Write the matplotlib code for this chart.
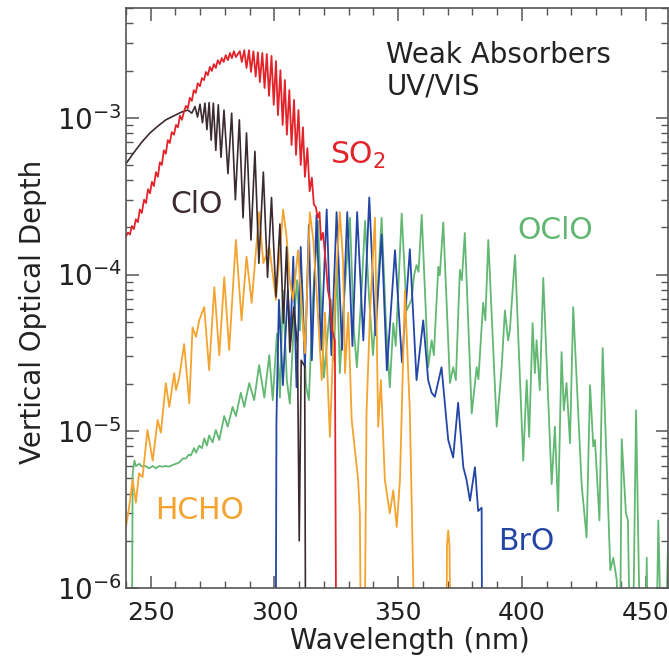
import numpy as np
import matplotlib
matplotlib.use("Agg")
import matplotlib.pyplot as plt
from matplotlib.ticker import MultipleLocator, LogLocator, NullFormatter

# ------------------------------------------------------------
# Datos: longitud de onda (nm) y profundidad optica
# (1e-7 = la curva cae por debajo del eje)
# ------------------------------------------------------------
so2_wl = [240.0, 240.8, 241.6, 242.4, 243.2, 244.0, 244.8, 245.6, 246.4, 247.3,
          248.1, 248.9, 249.7, 250.5, 251.3, 252.1, 252.9, 253.7, 254.5, 255.3,
          256.1, 256.9, 257.7, 258.5, 259.4, 260.2, 261.0, 261.8, 262.6, 263.4,
          264.2, 265.0, 265.8, 266.6, 267.4, 268.2, 269.0, 269.9, 270.7, 271.5,
          272.3, 273.1, 273.9, 274.7, 275.5, 276.3, 277.1, 277.9, 278.7, 279.5,
          280.3, 281.2, 282.0, 282.8, 283.6, 284.4,
          286.0, 286.8, 287.8, 288.7, 289.7, 290.5, 291.5, 292.4, 293.3, 294.1,
          295.1, 296.0, 296.9, 297.8, 298.8, 299.7, 300.6, 301.4, 302.4, 303.3,
          304.2, 305.0, 306.0, 306.9, 307.9, 308.7, 309.7, 310.6, 311.5, 312.3,
          313.3, 314.2, 315.1, 315.9, 316.7, 317.5, 318.2, 318.8, 319.6, 320.8,
          321.6, 322.4, 323.3, 324.4, 325.1]
so2_od = [1.75e-4, 1.85e-4, 1.8e-4, 2.04e-4, 1.95e-4, 2.25e-4, 2.16e-4, 2.6e-4, 2.47e-4, 3.0e-4,
          2.86e-4, 3.5e-4, 3.3e-4, 3.9e-4, 3.67e-4, 4.5e-4, 4.2e-4, 5.2e-4, 5.0e-4, 6.2e-4,
          5.9e-4, 7.2e-4, 6.9e-4, 8.1e-4, 7.8e-4, 9.0e-4, 8.7e-4, 1.03e-3, 9.7e-4, 1.09e-3,
          1.19e-3, 1.15e-3, 1.34e-3, 1.28e-3, 1.50e-3, 1.44e-3, 1.66e-3, 1.59e-3, 1.79e-3, 1.74e-3,
          1.96e-3, 1.87e-3, 2.11e-3, 1.99e-3, 2.2e-3, 2.08e-3, 2.33e-3, 2.2e-3, 2.4e-3, 2.27e-3,
          2.51e-3, 2.33e-3, 2.59e-3, 2.4e-3, 2.66e-3, 2.44e-3,
          2.66e-3, 2.27e-3, 2.7e-3, 2.08e-3, 2.7e-3, 1.96e-3, 2.66e-3, 1.83e-3, 2.62e-3, 1.69e-3,
          2.59e-3, 1.55e-3, 2.55e-3, 1.38e-3, 2.48e-3, 1.21e-3, 2.30e-3, 1.04e-3, 2.01e-3, 9.0e-4,
          1.74e-3, 7.8e-4, 1.50e-3, 6.7e-4, 1.30e-3, 5.8e-4, 1.12e-3, 5.0e-4, 8.7e-4, 4.2e-4,
          6.4e-4, 3.4e-4, 4.15e-4, 2.8e-4, 2.7e-4, 2.3e-4, 2.5e-4, 1.66e-4, 1.85e-4, 1.15e-4,
          7.9e-5, 6.9e-5, 4.4e-5, 3.8e-5, 1e-7]

clo_wl = [240.0, 243.2, 246.4, 249.7, 252.9, 256.1, 259.4, 262.6, 265.0, 266.6,
          267.9, 268.9, 269.9, 270.9, 271.9, 272.7, 273.6, 274.4, 275.3, 276.3,
          277.3, 278.4, 279.6, 281.2, 282.7, 284.2, 285.8, 287.3, 288.7, 290.5,
          292.1, 293.7, 295.5, 297.2, 298.8, 300.6, 302.2, 303.6, 304.9, 306.2,
          307.8, 309.3, 310.0, 310.8, 312.2, 312.7]
clo_od = [5.1e-4, 6.0e-4, 7.0e-4, 8.0e-4, 8.85e-4, 9.7e-4, 1.03e-3, 1.09e-3, 1.12e-3, 1.07e-3,
          1.18e-3, 1.01e-3, 1.22e-3, 9.3e-4, 1.24e-3, 8.4e-4, 1.25e-3, 7.2e-4, 1.24e-3, 6.2e-4,
          1.21e-3, 5.6e-4, 1.12e-3, 4.4e-4, 1.07e-3, 3.0e-4, 9.7e-4, 2.3e-4, 8.0e-4, 1.66e-4,
          6.1e-4, 1.18e-4, 4.5e-4, 9.6e-5, 3.1e-4, 7.2e-5, 2.1e-4, 4.9e-5, 1.5e-4, 3.2e-5,
          6.2e-5, 3.5e-5, 2.0e-6, 2.84e-5, 2.6e-5, 1e-7]

hcho_wl = [240.0, 241.3, 242.7, 244.0, 245.3, 246.7, 248.7, 250.8, 252.8, 254.1,
           256.1, 257.5, 259.5, 260.2, 261.5, 263.5, 265.6, 266.9, 268.3, 269.6,
           271.6, 273.6, 275.7, 277.7, 279.7, 281.7, 284.4, 286.7, 288.7, 290.8,
           293.8, 295.5, 297.9, 300.6, 303.5, 304.9, 306.2, 307.5, 309.5, 312.3,
           314.3, 315.7, 317.2, 319.1, 320.4, 322.4, 324.4, 326.4, 327.7, 328.5,
           329.8, 331.2, 332.5, 333.8, 334.5, 335.2, 336.1, 337.2, 338.6, 340.6,
           341.9, 343.0, 344.6, 346.6, 348.0, 349.4, 350.7, 352.7, 354.7, 357.4,
           369.3, 369.7, 370.2, 370.7, 371.6]
hcho_od = [2.45e-6, 3.3e-6, 4.9e-6, 3.5e-6, 5.4e-6, 5.1e-6, 1.02e-5, 6.5e-6, 1.18e-5, 9.8e-6,
           2.03e-5, 1.43e-5, 2.35e-5, 1.83e-5, 2.2e-5, 3.6e-5, 1.51e-5, 4.6e-5, 4.0e-5, 5.1e-5,
           6.2e-5, 2.45e-5, 8.3e-5, 3.06e-5, 9.6e-5, 3.3e-5, 1.66e-4, 5.1e-5, 1.3e-4, 6.6e-5,
           2.5e-4, 1.18e-4, 1.5e-4, 6.9e-5, 2.6e-4, 1.73e-4, 9.2e-5, 6.9e-5, 1.43e-4, 3.15e-5,
           2.5e-4, 1.66e-4, 6.9e-5, 2.12e-5, 5.7e-5, 9.2e-6, 6.9e-5, 2.5e-4, 1.24e-4, 2.35e-5,
           5.7e-5, 1.18e-5, 7.6e-6, 4.9e-6, 3.0e-6, 1e-7, 1e-7, 1.32e-5, 5.7e-5, 2.3e-4,
           1.07e-5, 2.12e-5, 4.9e-6, 3.0e-6, 4.2e-6, 2.45e-6, 4.9e-6, 7.9e-5, 1.32e-5, 1e-7,
           1e-7, 1.87e-6, 2.33e-6, 1.87e-6, 1e-7]

bro_wl = [300.4, 300.8, 301.8, 303.4, 305.4, 306.4, 307.6, 308.9, 310.6, 312.3,
          313.9, 315.1, 317.0, 318.8, 321.1, 323.0, 325.1, 327.3, 329.4, 331.5,
          333.4, 335.9, 338.3, 340.8, 343.3, 345.4, 348.7, 351.5, 354.7, 357.4,
          360.1, 362.1, 363.5, 364.8, 367.5, 370.2, 372.2, 374.2, 376.3, 377.6,
          379.0, 381.0, 382.3, 383.7, 384.0]
bro_od = [1e-7, 1.18e-5, 6.9e-5, 1.97e-5, 7.9e-5, 3.8e-5, 1.3e-4, 1.91e-5, 1.5e-4, 2.56e-5,
          2.07e-4, 2.84e-5, 2.4e-4, 3.3e-5, 2.6e-4, 3.06e-5, 2.5e-4, 3.3e-5, 2.5e-4, 3.5e-5,
          2.5e-4, 3.8e-5, 3.1e-4, 4.1e-5, 1.8e-4, 2.45e-5, 1.43e-4, 2.75e-5, 1.45e-4, 2.12e-5,
          5.1e-5, 2.12e-5, 1.76e-5, 1.66e-5, 2.56e-5, 8.8e-6, 6.8e-6, 1.52e-5, 5.9e-6, 4.9e-6,
          3.6e-6, 5.9e-6, 3.1e-6, 3.25e-6, 1e-7]

oclo_wl = [242.2, 242.7, 243.4, 244.0, 245.4, 246.4, 248.0, 249.3, 250.8, 252.1,
           253.3, 254.8, 256.1, 257.4, 258.9, 260.2, 261.4, 262.9, 264.2, 265.4,
           266.2, 267.5, 268.3, 269.6, 270.7, 271.6, 272.7, 273.6, 275.0, 276.3,
           277.7, 279.7, 281.1, 283.1, 284.4, 286.4, 287.8, 289.8, 291.8, 293.8,
           295.9, 297.9, 299.3, 301.0, 302.2, 303.4, 305.0, 306.2, 307.9, 309.1,
           310.3, 311.1, 312.7, 313.9, 315.5, 317.6, 318.8, 320.0, 321.6, 322.8,
           324.0, 325.2, 326.4, 328.1, 330.5, 332.1, 333.3, 335.0, 336.6, 338.2,
           339.8, 341.4, 343.3, 345.0, 346.6, 348.0, 349.0, 351.4, 353.4, 355.4,
           356.4, 357.4, 358.2, 359.5, 362.1, 363.5, 364.4, 366.2, 366.8, 368.2,
           370.9, 372.2, 373.3, 374.9, 375.7, 376.9, 379.7, 381.7, 382.4, 384.3,
           385.2, 386.4, 389.8, 391.8, 393.1, 394.4, 395.1, 397.2, 400.5, 401.9,
           402.9, 404.3, 405.2, 405.9, 407.2, 408.6, 412.0, 413.3, 414.6, 416.0,
           416.9, 418.0, 419.4, 420.7, 424.1, 426.1, 427.5, 428.8, 429.5, 431.3,
           432.6, 435.7, 436.9, 438.3, 439.3, 440.3, 442.0, 442.8, 444.3, 446.1,
           448.4, 449.7, 450.4, 451.4, 453.7, 455.1, 457.1, 459.0]
oclo_od = [1e-7, 5.4e-6, 6.5e-6, 6.0e-6, 6.2e-6, 5.95e-6, 6.0e-6, 5.8e-6, 6.0e-6, 5.8e-6,
           6.0e-6, 5.95e-6, 6.0e-6, 5.95e-6, 6.1e-6, 6.2e-6, 6.3e-6, 6.7e-6, 6.7e-6, 7.1e-6,
           7.0e-6, 7.8e-6, 7.3e-6, 8.1e-6, 7.8e-6, 9.0e-6, 8.1e-6, 9.4e-6, 8.5e-6, 1.02e-5,
           8.8e-6, 1.25e-5, 1.07e-5, 1.43e-5, 1.25e-5, 1.76e-5, 1.43e-5, 2.03e-5, 1.58e-5, 2.64e-5,
           1.64e-5, 3.06e-5, 1.58e-5, 4.2e-5, 1.64e-5, 7.9e-5, 2.12e-5, 1.5e-5, 5.1e-5, 9.2e-5,
           4.4e-5, 9.2e-5, 1.97e-5, 1.58e-5, 6.9e-5, 2.2e-4, 6.9e-5, 2.2e-5, 4.4e-5, 6.9e-5,
           2.84e-5, 1.18e-4, 2.35e-5, 6.9e-5, 2.3e-4, 4.4e-5, 2.56e-5, 6.9e-5, 2.2e-4, 7.2e-5,
           3.06e-5, 6.9e-5, 2.3e-4, 5.1e-5, 1.91e-5, 4.9e-5, 3.5e-5, 2.45e-4, 5.9e-5, 6.9e-5,
           9.9e-5, 1.15e-4, 1.04e-4, 2.4e-4, 2.56e-5, 3.8e-5, 3.06e-5, 1.12e-4, 9.9e-5, 2.15e-4,
           2.03e-5, 2.56e-5, 2.12e-5, 1.07e-4, 9.2e-5, 1.84e-4, 1.3e-5, 2.56e-5, 2.15e-5, 6.6e-5,
           5.1e-5, 1.66e-4, 1.07e-5, 2.56e-5, 5.9e-5, 3.8e-5, 4.4e-5, 1.33e-4, 6.5e-6, 2.12e-5,
           9.2e-6, 4.9e-5, 2.35e-5, 3.8e-5, 1.83e-5, 9.5e-5, 4.6e-6, 1.07e-5, 3.1e-6, 3.2e-5,
           1.36e-5, 2.03e-5, 8.4e-6, 6.2e-5, 4.6e-6, 2.1e-6, 1.97e-5, 8.0e-6, 8.8e-6, 2.7e-6,
           3.4e-5, 1.3e-6, 1.56e-6, 1.12e-6, 1e-7, 8.9e-6, 3.0e-6, 2.7e-6, 1e-7, 1.36e-5,
           1e-7, 1e-7, 1.56e-6, 1e-7, 1e-7, 2.7e-6, 1e-7, 1.9e-6]

# colores
c_so2 = '#e3232a'
c_clo = '#3c2a31'
c_hcho = '#f4a32e'
c_bro = '#2346a6'
c_oclo = '#62b872'

plt.rcParams['font.family'] = 'DejaVu Sans'
plt.rcParams['mathtext.default'] = 'regular'

fig = plt.figure(figsize=(6.69, 6.63), dpi=100)
ax = fig.add_axes([0.1883, 0.1131, 0.8102, 0.8745])

# orden de dibujo: el rojo queda encima
ax.plot(oclo_wl, oclo_od, color=c_oclo, lw=1.3)
ax.plot(bro_wl, bro_od, color=c_bro, lw=1.3)
ax.plot(hcho_wl, hcho_od, color=c_hcho, lw=1.3)
ax.plot(clo_wl, clo_od, color=c_clo, lw=1.2)
ax.plot(so2_wl, so2_od, color=c_so2, lw=1.3)

ax.set_yscale('log')
ax.set_xlim(240, 459)
ax.set_ylim(1e-6, 5e-3)

ax.xaxis.set_major_locator(MultipleLocator(50))
ax.xaxis.set_minor_locator(MultipleLocator(10))
ax.yaxis.set_major_locator(LogLocator(base=10))
ax.yaxis.set_minor_locator(LogLocator(base=10, subs=np.arange(2, 10)))
ax.yaxis.set_minor_formatter(NullFormatter())

ax.tick_params(which='both', direction='in', top=True, right=True,
               color='#555555', labelcolor='#222222')
ax.tick_params(which='major', length=9, width=1.1)
ax.tick_params(which='minor', length=5, width=1.0)
ax.tick_params(axis='x', pad=9, labelsize=18)
ax.tick_params(axis='y', pad=3, labelsize=20)
for s in ax.spines.values():
    s.set_color('#555555')
    s.set_linewidth(1.2)

ax.set_xlabel('Wavelength (nm)', fontsize=20, color='#222222')
ax.set_ylabel('Vertical Optical Depth', fontsize=20, color='#222222')
ax.xaxis.set_label_coords(0.523, -0.068)
ax.yaxis.set_label_coords(-0.146, 0.477)

# etiquetas de cada especie
ax.text(0.48, 0.943, 'Weak Absorbers\nUV/VIS', transform=ax.transAxes,
        fontsize=20, color='#222222', va='top', ha='left', linespacing=1.15)
ax.text(0.376, 0.7466, 'SO$_2$', transform=ax.transAxes, fontsize=21.5,
        color=c_so2, va='center', ha='left')
ax.text(0.081, 0.662, 'ClO', transform=ax.transAxes, fontsize=21.5,
        color=c_clo, va='center', ha='left')
ax.text(0.723, 0.617, 'OClO', transform=ax.transAxes, fontsize=21.5,
        color=c_oclo, va='center', ha='left')
ax.text(0.0535, 0.134, 'HCHO', transform=ax.transAxes, fontsize=21.5,
        color=c_hcho, va='center', ha='left')
ax.text(0.686, 0.081, 'BrO', transform=ax.transAxes, fontsize=21.5,
        color=c_bro, va='center', ha='left')

fig.savefig('out.png', dpi=100)
